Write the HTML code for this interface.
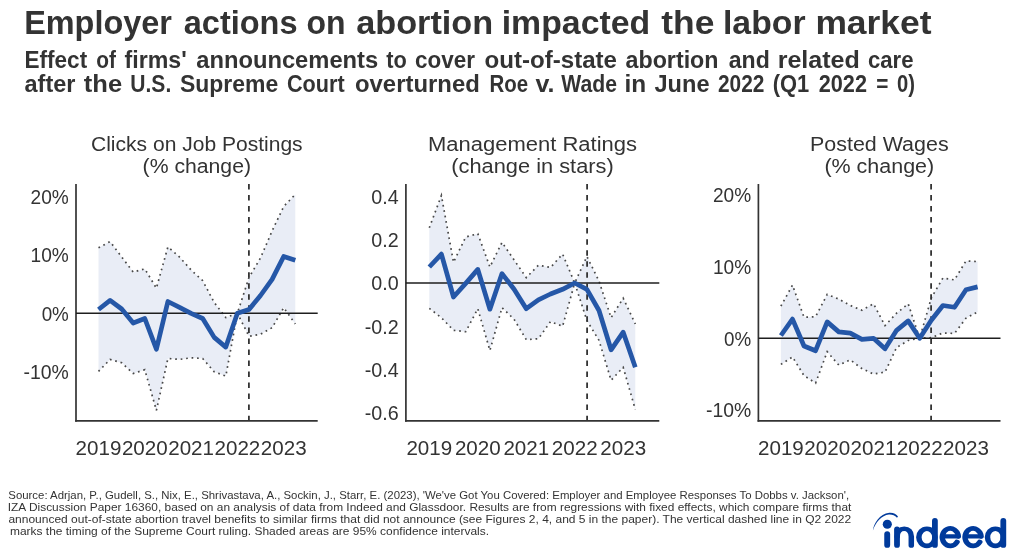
<!DOCTYPE html>
<html><head><meta charset="utf-8"><title>Employer actions on abortion impacted the labor market</title>
<style>
html,body{margin:0;padding:0;background:#fff;}
body{width:1024px;height:558px;overflow:hidden;font-family:"Liberation Sans", sans-serif;}
svg{display:block;will-change:transform;}
text{font-family:"Liberation Sans", sans-serif;fill:#333333;}
</style></head><body>
<svg width="1024" height="558" viewBox="0 0 1024 558">
<rect width="1024" height="558" fill="#fff"/>

<text transform="translate(24.16 34) scale(0.9716 1)" font-size="33.4" font-weight="bold" >Employer</text>
<text transform="translate(183.75 34) scale(0.9735 1)" font-size="33.4" font-weight="bold" >actions</text>
<text transform="translate(306.54 34) scale(0.9571 1)" font-size="33.4" font-weight="bold" >on</text>
<text transform="translate(356.25 34) scale(1.0254 1)" font-size="33.4" font-weight="bold" >abortion</text>
<text transform="translate(501.72 34) scale(1.0126 1)" font-size="33.4" font-weight="bold" >impacted</text>
<text transform="translate(661.25 34) scale(1.0603 1)" font-size="33.4" font-weight="bold" >the</text>
<text transform="translate(722.98 34) scale(1.0108 1)" font-size="33.4" font-weight="bold" >labor</text>
<text transform="translate(815.38 34) scale(1.0606 1)" font-size="33.4" font-weight="bold" >market</text>
<text transform="translate(24.52 67.6) scale(0.9804 1)" font-size="23" font-weight="bold" >Effect</text>
<text transform="translate(96.25 67.6) scale(0.9071 1)" font-size="23" font-weight="bold" >of</text>
<text transform="translate(124.50 67.6) scale(1.0083 1)" font-size="23" font-weight="bold" >firms&#39;</text>
<text transform="translate(196.25 67.6) scale(1.0323 1)" font-size="23" font-weight="bold" >announcements</text>
<text transform="translate(386.25 67.6) scale(0.9465 1)" font-size="23" font-weight="bold" >to</text>
<text transform="translate(415.00 67.6) scale(0.9768 1)" font-size="23" font-weight="bold" >cover</text>
<text transform="translate(484.50 67.6) scale(1.0482 1)" font-size="23" font-weight="bold" >out-of-state</text>
<text transform="translate(625.50 67.6) scale(1.0117 1)" font-size="23" font-weight="bold" >abortion</text>
<text transform="translate(728.75 67.6) scale(1.0040 1)" font-size="23" font-weight="bold" >and</text>
<text transform="translate(777.66 67.6) scale(1.0903 1)" font-size="23" font-weight="bold" >related</text>
<text transform="translate(868.00 67.6) scale(0.9627 1)" font-size="23" font-weight="bold" >care</text>
<text transform="translate(24.50 91.7) scale(1.0220 1)" font-size="23" font-weight="bold" >after</text>
<text transform="translate(83.75 91.7) scale(1.1125 1)" font-size="23" font-weight="bold" >the</text>
<text transform="translate(130.33 91.7) scale(0.9152 1)" font-size="23" font-weight="bold" >U.S.</text>
<text transform="translate(180.00 91.7) scale(0.9986 1)" font-size="23" font-weight="bold" >Supreme</text>
<text transform="translate(287.00 91.7) scale(0.9407 1)" font-size="23" font-weight="bold" >Court</text>
<text transform="translate(355.00 91.7) scale(1.0392 1)" font-size="23" font-weight="bold" >overturned</text>
<text transform="translate(489.61 91.7) scale(0.8882 1)" font-size="23" font-weight="bold" >Roe</text>
<text transform="translate(535.50 91.7) scale(1.0880 1)" font-size="23" font-weight="bold" >v.</text>
<text transform="translate(561.25 91.7) scale(0.9213 1)" font-size="23" font-weight="bold" >Wade</text>
<text transform="translate(624.44 91.7) scale(1.0604 1)" font-size="23" font-weight="bold" >in</text>
<text transform="translate(654.50 91.7) scale(1.0257 1)" font-size="23" font-weight="bold" >June</text>
<text transform="translate(718.00 91.7) scale(0.9082 1)" font-size="23" font-weight="bold" >2022</text>
<text transform="translate(772.80 91.7) scale(0.9521 1)" font-size="23" font-weight="bold" >(Q1</text>
<text transform="translate(818.75 91.7) scale(0.9429 1)" font-size="23" font-weight="bold" >2022</text>
<text transform="translate(876.25 91.7) scale(0.9038 1)" font-size="23" font-weight="bold" >=</text>
<text transform="translate(897.00 91.7) scale(0.8792 1)" font-size="23" font-weight="bold" >0)</text>
<g>
<polygon points="98.5,247.8 110.1,241.6 121.7,257.0 133.2,272.1 144.8,268.9 156.4,288.2 167.9,246.9 179.5,257.0 191.1,270.0 202.7,280.7 214.2,302.5 225.8,317.6 237.4,313.2 249.0,277.5 260.5,258.0 272.1,231.0 283.7,206.5 295.3,194.4 295.3,323.9 283.7,307.7 272.1,327.7 260.5,334.2 249.0,336.3 237.4,313.2 225.8,376.1 214.2,371.8 202.7,358.5 191.1,357.8 179.5,359.4 167.9,358.5 156.4,410.4 144.8,369.7 133.2,373.5 121.7,362.8 110.1,359.4 98.5,371.4" fill="#E9EDF6"/>
<polyline points="98.5,247.8 110.1,241.6 121.7,257.0 133.2,272.1 144.8,268.9 156.4,288.2 167.9,246.9 179.5,257.0 191.1,270.0 202.7,280.7 214.2,302.5 225.8,317.6 237.4,313.2 249.0,277.5 260.5,258.0 272.1,231.0 283.7,206.5 295.3,194.4" fill="none" stroke="#484848" stroke-width="1.7" stroke-dasharray="1.7 3.8"/>
<polyline points="98.5,371.4 110.1,359.4 121.7,362.8 133.2,373.5 144.8,369.7 156.4,410.4 167.9,358.5 179.5,359.4 191.1,357.8 202.7,358.5 214.2,371.8 225.8,376.1 237.4,313.2 249.0,336.3 260.5,334.2 272.1,327.7 283.7,307.7 295.3,323.9" fill="none" stroke="#484848" stroke-width="1.7" stroke-dasharray="1.7 3.8"/>
<line x1="76.0" y1="184.0" x2="76.0" y2="421.7" stroke="#333" stroke-width="1.7"/>
<line x1="75.15" y1="420.9" x2="317.7" y2="420.9" stroke="#333" stroke-width="1.7"/>
<line x1="76.0" y1="313.2" x2="317.7" y2="313.2" stroke="#1e1e1e" stroke-width="1.6"/>
<line x1="248.9" y1="184.0" x2="248.9" y2="420.9" stroke="#333" stroke-width="1.8" stroke-dasharray="5.5 5.53"/>
<polyline points="98.5,309.5 110.1,300.4 121.7,309.0 133.2,323.0 144.8,318.5 156.4,349.2 167.9,301.5 179.5,307.3 191.1,313.3 202.7,318.5 214.2,337.4 225.8,347.1 237.4,313.2 249.0,309.5 260.5,295.5 272.1,279.4 283.7,256.5 295.3,260.3" fill="none" stroke="#2557A7" stroke-width="4.7" stroke-linejoin="round"/>
<text x="196.8" y="151.1" font-size="20" text-anchor="middle" textLength="211.6" lengthAdjust="spacingAndGlyphs">Clicks on Job Postings</text>
<text x="196.8" y="173.4" font-size="20" text-anchor="middle" textLength="108.4" lengthAdjust="spacingAndGlyphs">(% change)</text>
<text transform="translate(68.80 203.60) scale(0.955 1)" font-size="20" text-anchor="end">20%</text>
<text transform="translate(68.80 262.10) scale(0.955 1)" font-size="20" text-anchor="end">10%</text>
<text transform="translate(68.80 320.60) scale(0.94 1)" font-size="20" text-anchor="end">0%</text>
<text transform="translate(68.80 379.10) scale(0.97 1)" font-size="20" text-anchor="end">-10%</text>
<text x="98.5" y="454.7" font-size="20" text-anchor="middle" textLength="45.8" lengthAdjust="spacingAndGlyphs">2019</text>
<text x="144.8" y="454.7" font-size="20" text-anchor="middle" textLength="45.8" lengthAdjust="spacingAndGlyphs">2020</text>
<text x="191.1" y="454.7" font-size="20" text-anchor="middle" textLength="45.8" lengthAdjust="spacingAndGlyphs">2021</text>
<text x="237.4" y="454.7" font-size="20" text-anchor="middle" textLength="45.8" lengthAdjust="spacingAndGlyphs">2022</text>
<text x="283.7" y="454.7" font-size="20" text-anchor="middle" textLength="45.8" lengthAdjust="spacingAndGlyphs">2023</text>
</g>
<g>
<polygon points="429.3,227.8 441.4,195.5 453.5,262.3 465.7,237.0 477.8,233.7 489.9,267.0 502.0,242.4 514.1,260.0 526.3,277.6 538.4,265.2 550.5,267.5 562.6,254.1 574.7,283.0 586.9,256.5 599.0,281.1 611.1,317.7 623.2,298.2 635.3,324.0 635.3,409.5 623.2,367.3 611.1,380.2 599.0,340.4 586.9,320.5 574.7,283.0 562.6,326.3 550.5,321.6 538.4,338.7 526.3,339.7 514.1,319.3 502.0,307.6 489.9,350.5 477.8,308.7 465.7,331.7 453.5,330.3 441.4,317.7 429.3,308.3" fill="#E9EDF6"/>
<polyline points="429.3,227.8 441.4,195.5 453.5,262.3 465.7,237.0 477.8,233.7 489.9,267.0 502.0,242.4 514.1,260.0 526.3,277.6 538.4,265.2 550.5,267.5 562.6,254.1 574.7,283.0 586.9,256.5 599.0,281.1 611.1,317.7 623.2,298.2 635.3,324.0" fill="none" stroke="#484848" stroke-width="1.7" stroke-dasharray="1.7 3.8"/>
<polyline points="429.3,308.3 441.4,317.7 453.5,330.3 465.7,331.7 477.8,308.7 489.9,350.5 502.0,307.6 514.1,319.3 526.3,339.7 538.4,338.7 550.5,321.6 562.6,326.3 574.7,283.0 586.9,320.5 599.0,340.4 611.1,380.2 623.2,367.3 635.3,409.5" fill="none" stroke="#484848" stroke-width="1.7" stroke-dasharray="1.7 3.8"/>
<line x1="405.9" y1="184.0" x2="405.9" y2="421.7" stroke="#333" stroke-width="1.7"/>
<line x1="405.04999999999995" y1="420.9" x2="659.3" y2="420.9" stroke="#333" stroke-width="1.7"/>
<line x1="405.9" y1="283.0" x2="659.3" y2="283.0" stroke="#1e1e1e" stroke-width="1.6"/>
<line x1="587.1" y1="184.0" x2="587.1" y2="420.9" stroke="#333" stroke-width="1.8" stroke-dasharray="5.5 5.53"/>
<polyline points="429.3,267.0 441.4,254.1 453.5,297.0 465.7,283.4 477.8,269.4 489.9,309.2 502.0,273.6 514.1,289.3 526.3,308.7 538.4,299.8 550.5,294.0 562.6,289.3 574.7,283.0 586.9,289.3 599.0,310.5 611.1,349.8 623.2,332.2 635.3,367.3" fill="none" stroke="#2557A7" stroke-width="4.7" stroke-linejoin="round"/>
<text x="532.5" y="151.1" font-size="20" text-anchor="middle" textLength="209.0" lengthAdjust="spacingAndGlyphs">Management Ratings</text>
<text x="532.5" y="173.4" font-size="20" text-anchor="middle" textLength="162.4" lengthAdjust="spacingAndGlyphs">(change in stars)</text>
<text transform="translate(398.70 204.00) scale(0.985 1)" font-size="20" text-anchor="end">0.4</text>
<text transform="translate(398.70 247.20) scale(0.985 1)" font-size="20" text-anchor="end">0.2</text>
<text transform="translate(398.70 290.40) scale(0.985 1)" font-size="20" text-anchor="end">0.0</text>
<text transform="translate(398.70 333.60) scale(0.985 1)" font-size="20" text-anchor="end">-0.2</text>
<text transform="translate(398.70 376.80) scale(0.985 1)" font-size="20" text-anchor="end">-0.4</text>
<text transform="translate(398.70 420.00) scale(0.985 1)" font-size="20" text-anchor="end">-0.6</text>
<text x="429.3" y="454.7" font-size="20" text-anchor="middle" textLength="45.8" lengthAdjust="spacingAndGlyphs">2019</text>
<text x="477.8" y="454.7" font-size="20" text-anchor="middle" textLength="45.8" lengthAdjust="spacingAndGlyphs">2020</text>
<text x="526.3" y="454.7" font-size="20" text-anchor="middle" textLength="45.8" lengthAdjust="spacingAndGlyphs">2021</text>
<text x="574.7" y="454.7" font-size="20" text-anchor="middle" textLength="45.8" lengthAdjust="spacingAndGlyphs">2022</text>
<text x="623.2" y="454.7" font-size="20" text-anchor="middle" textLength="45.8" lengthAdjust="spacingAndGlyphs">2023</text>
</g>
<g>
<polygon points="780.9,306.2 792.5,285.1 804.0,317.2 815.6,316.7 827.2,294.4 838.8,299.1 850.3,305.5 861.9,310.2 873.5,303.8 885.0,325.6 896.6,313.2 908.2,303.8 919.7,338.3 931.3,298.0 942.9,278.0 954.5,279.9 966.0,260.9 977.6,261.6 977.6,311.9 966.0,318.2 954.5,333.4 942.9,333.0 931.3,337.7 919.7,338.2 908.2,340.5 896.6,347.5 885.0,372.1 873.5,374.0 861.9,368.6 850.3,359.9 838.8,365.1 827.2,351.7 815.6,383.1 804.0,375.6 792.5,356.9 780.9,364.4" fill="#E9EDF6"/>
<polyline points="780.9,306.2 792.5,285.1 804.0,317.2 815.6,316.7 827.2,294.4 838.8,299.1 850.3,305.5 861.9,310.2 873.5,303.8 885.0,325.6 896.6,313.2 908.2,303.8 919.7,338.3 931.3,298.0 942.9,278.0 954.5,279.9 966.0,260.9 977.6,261.6" fill="none" stroke="#484848" stroke-width="1.7" stroke-dasharray="1.7 3.8"/>
<polyline points="780.9,364.4 792.5,356.9 804.0,375.6 815.6,383.1 827.2,351.7 838.8,365.1 850.3,359.9 861.9,368.6 873.5,374.0 885.0,372.1 896.6,347.5 908.2,340.5 919.7,338.2 931.3,337.7 942.9,333.0 954.5,333.4 966.0,318.2 977.6,311.9" fill="none" stroke="#484848" stroke-width="1.7" stroke-dasharray="1.7 3.8"/>
<line x1="758.4" y1="184.0" x2="758.4" y2="421.7" stroke="#333" stroke-width="1.7"/>
<line x1="757.55" y1="420.9" x2="1000.5" y2="420.9" stroke="#333" stroke-width="1.7"/>
<line x1="758.4" y1="338.2" x2="1000.5" y2="338.2" stroke="#1e1e1e" stroke-width="1.6"/>
<line x1="931.1" y1="184.0" x2="931.1" y2="420.9" stroke="#333" stroke-width="1.8" stroke-dasharray="5.5 5.53"/>
<polyline points="780.9,335.5 792.5,319.1 804.0,346.0 815.6,350.7 827.2,321.9 838.8,331.9 850.3,333.1 861.9,339.4 873.5,338.3 885.0,348.8 896.6,330.3 908.2,320.9 919.7,338.3 931.3,320.2 942.9,305.5 954.5,307.3 966.0,289.8 977.6,286.9" fill="none" stroke="#2557A7" stroke-width="4.7" stroke-linejoin="round"/>
<text x="879.3" y="151.1" font-size="20" text-anchor="middle" textLength="138.6" lengthAdjust="spacingAndGlyphs">Posted Wages</text>
<text x="879.3" y="173.4" font-size="20" text-anchor="middle" textLength="109.8" lengthAdjust="spacingAndGlyphs">(% change)</text>
<text transform="translate(751.20 202.20) scale(0.955 1)" font-size="20" text-anchor="end">20%</text>
<text transform="translate(751.20 273.90) scale(0.955 1)" font-size="20" text-anchor="end">10%</text>
<text transform="translate(751.20 345.60) scale(0.94 1)" font-size="20" text-anchor="end">0%</text>
<text transform="translate(751.20 417.30) scale(0.97 1)" font-size="20" text-anchor="end">-10%</text>
<text x="780.9" y="454.7" font-size="20" text-anchor="middle" textLength="45.8" lengthAdjust="spacingAndGlyphs">2019</text>
<text x="827.2" y="454.7" font-size="20" text-anchor="middle" textLength="45.8" lengthAdjust="spacingAndGlyphs">2020</text>
<text x="873.5" y="454.7" font-size="20" text-anchor="middle" textLength="45.8" lengthAdjust="spacingAndGlyphs">2021</text>
<text x="919.7" y="454.7" font-size="20" text-anchor="middle" textLength="45.8" lengthAdjust="spacingAndGlyphs">2022</text>
<text x="966.0" y="454.7" font-size="20" text-anchor="middle" textLength="45.8" lengthAdjust="spacingAndGlyphs">2023</text>
</g>
<text x="8.3" y="498.9" font-size="11" textLength="840.8" lengthAdjust="spacingAndGlyphs">Source: Adrjan, P., Gudell, S., Nix, E., Shrivastava, A., Sockin, J., Starr, E. (2023), 'We've Got You Covered: Employer and Employee Responses To Dobbs v. Jackson',</text>
<text x="7.8" y="510.9" font-size="11" textLength="843.5" lengthAdjust="spacingAndGlyphs">IZA Discussion Paper 16360, based on an analysis of data from Indeed and Glassdoor. Results are from regressions with fixed effects, which compare firms that</text>
<text x="8.4" y="522.9" font-size="11" textLength="842.8" lengthAdjust="spacingAndGlyphs">announced out-of-state abortion travel benefits to similar firms that did not announce (see Figures 2, 4, and 5 in the paper). The vertical dashed line in Q2 2022</text>
<text x="10.0" y="534.9" font-size="11" textLength="479.0" lengthAdjust="spacingAndGlyphs">marks the timing of the Supreme Court ruling. Shaded areas are 95% confidence intervals.</text>
<g fill="#003A9B" stroke="none">
<path d="M872.9 530.6 C873.6 523.5 879.5 514.1 889.3 512.8 C893.0 512.4 896.3 514.1 898.0 516.6 L897.0 517.7 C894.8 515.5 892.0 514.4 889.0 514.6 C881.5 515.3 875.6 522.5 872.9 530.6 Z"/>
<circle cx="887.3" cy="524.2" r="4.55"/>
</g>
<g fill="none" stroke="#003A9B" stroke-linecap="round" stroke-linejoin="round">
<path d="M887.2 534.1 L887.2 544.9" stroke-width="5.9"/>
<path d="M897.0 529.5 L897.0 544.9" stroke-width="5.8"/>
<g transform="translate(904.25 536.5) scale(5.5 4.6)" stroke-width="1"><path d="M-1.2818 0 C-1.2818 -1.0770 -0.7079 -1.6957 0 -1.6957 C0.7079 -1.6957 1.2818 -1.0770 1.2818 0 L1.2818 1.9565"/></g>
<path d="M934.9 520.8 L934.9 544.9" stroke-width="5.8"/><g transform="translate(926.9 537.3) scale(5.5 4.6)" stroke-width="1"><ellipse cx="0" cy="0" rx="1.4636" ry="1.8696"/></g>
<path d="M942.30 536.4 L958.30 536.4" stroke-width="4.1"/><g transform="translate(950.3 537.2) scale(5.5 4.6)" stroke-width="1"><path d="M1.4545 -0.1739 A1.4545 1.9022 0 1 0 1.2199 1.0360"/></g>
<path d="M965.05 536.4 L981.05 536.4" stroke-width="4.1"/><g transform="translate(973.05 537.2) scale(5.5 4.6)" stroke-width="1"><path d="M1.4545 -0.1739 A1.4545 1.9022 0 1 0 1.2199 1.0360"/></g>
<path d="M1003.3 520.8 L1003.3 544.9" stroke-width="5.8"/><g transform="translate(995.4 537.3) scale(5.5 4.6)" stroke-width="1"><ellipse cx="0" cy="0" rx="1.4364" ry="1.8696"/></g>
</g>
</svg></body></html>
